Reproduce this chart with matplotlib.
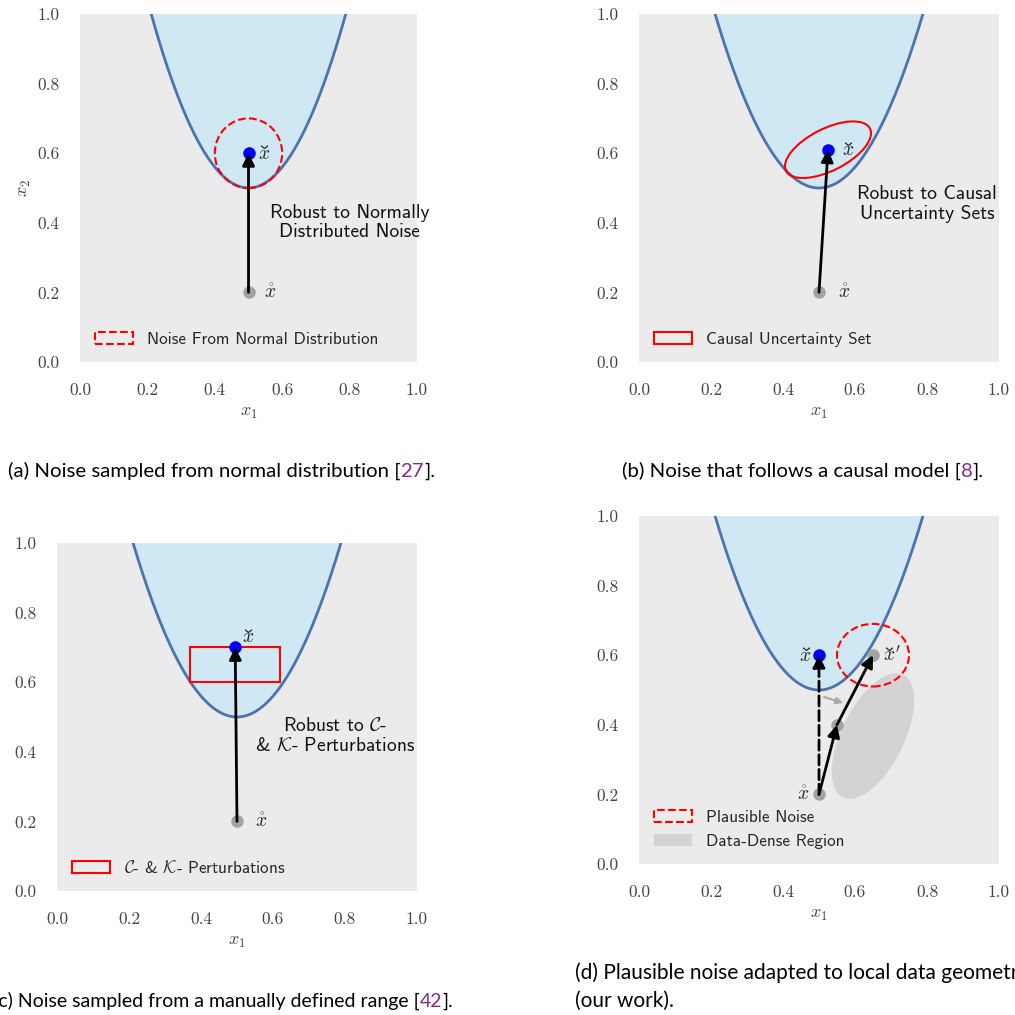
import matplotlib
matplotlib.use('Agg')
from matplotlib import pyplot as plt
from matplotlib import patches as mpatches
from matplotlib import transforms as mtransforms
from matplotlib.path import Path
import numpy as np

plt.rcParams['mathtext.fontset'] = 'cm'

# decision boundary x2 = curvature * (x1 - vx)**2 + vy
boundary_vertex = (0.5, 0.5)
boundary_curvature = 6.0

tick_values = [0.0, 0.2, 0.4, 0.6, 0.8, 1.0]
tick_labels = ['0.0', '0.2', '0.4', '0.6', '0.8', '1.0']

# (a) normal noise
a_origin = (0.5, 0.2)
a_target = (0.5, 0.6)
a_noise_radius = 0.1

# (b) causal uncertainty set
b_origin = (0.5, 0.2)
b_target = (0.525, 0.61)
b_set_size = (0.263, 0.12)
b_set_angle = 28

# (c) C- & K- perturbation box
c_origin = (0.5, 0.2)
c_target = (0.495, 0.7)
c_box_x = (0.37, 0.62)
c_box_y = (0.6, 0.7)

# (d) plausible noise
d_origin = (0.5, 0.2)
d_target = (0.5, 0.6)
d_step = (0.55, 0.4)
d_final = (0.65, 0.6)
d_noise_size = (0.2, 0.18)
d_dense_center = (0.65, 0.368)
d_dense_size = (0.39, 0.175)
d_dense_angle = 65
d_hint_from = (0.514, 0.48)
d_hint_to = (0.567, 0.463)

captions = [
    ('(a) Noise sampled from normal distribution [', '27', '].'),
    ('(b) Noise that follows a causal model [', '8', '].'),
    ('(c) Noise sampled from a manually defined range [', '42', '].'),
]
caption_d = ['(d) Plausible noise adapted to local data geometry', '(our work).']

bg_color = '#ebebeb'
fill_color = '#cfe8f4'
line_color = '#4c72b0'
point_gray = '#a3a3a3'
text_dark = '#262626'
cite_color = '#862a85'

# small caron drawn as a marker (mathtext has no \check)
caron = Path([(-1, 0.8), (0, 0), (1, 0.8)], [Path.MOVETO, Path.LINETO, Path.LINETO])

fig = plt.figure(figsize=(10.15, 10.15), dpi=100)
W = H = 1015.0


def px_axes(left, top, right, bottom):
    return fig.add_axes([left / W, 1 - bottom / H, (right - left) / W, (bottom - top) / H])


def base_panel(ax, ylabel=False):
    ax.set_facecolor(bg_color)
    for s in ax.spines.values():
        s.set_visible(False)
    vx, vy = boundary_vertex
    half = np.sqrt((1.0 - vy) / boundary_curvature)
    xs = np.linspace(vx - half, vx + half, 400)
    ys = boundary_curvature * (xs - vx) ** 2 + vy
    ax.fill_between(xs, ys, 1.0, color=fill_color, lw=0, zorder=1)
    ax.plot(xs, ys, color=line_color, lw=2, zorder=2)
    ax.set_xlim(0, 1)
    ax.set_ylim(0, 1)
    ax.set_xticks(tick_values)
    ax.set_yticks(tick_values)
    ax.set_xticklabels(tick_labels, fontfamily='cmr10', fontsize=12.5, color='#444444')
    ax.set_yticklabels(tick_labels, fontfamily='cmr10', fontsize=12.5, color='#444444')
    ax.tick_params(length=0, pad=15)
    ax.set_xlabel('$x_1$', fontsize=13, color='#444444')
    ax.xaxis.set_label_coords(0.5, -0.118)
    if ylabel:
        ax.set_ylabel('$x_2$', fontsize=13, color='#444444')
        ax.yaxis.set_label_coords(-0.138, 0.5)


def point(ax, xy, color):
    ax.plot(xy[0], xy[1], 'o', color=color, ms=8, zorder=3)


def arrow(ax, start, end, color='black', lw=2, ls='-', scale=18):
    ax.annotate('', xy=end, xytext=start,
                arrowprops=dict(arrowstyle='-|>', color=color, lw=lw, ls=ls,
                                mutation_scale=scale, shrinkA=0, shrinkB=0),
                zorder=5)


def label(ax, x, y, s, ha='left'):
    ax.text(x, y, s, fontsize=14, ha=ha, va='center', color=text_dark, zorder=6)


def check_label(ax, x, y, s='$x$', ha='left'):
    label(ax, x, y, s, ha=ha)
    dx = 4.4 if ha == 'left' else -3.6
    tr = mtransforms.offset_copy(ax.transData, fig=fig, x=dx, y=3.6, units='points')
    ax.plot(x, y, marker=caron, ms=5, mew=0.9, mec=text_dark, mfc='none',
            transform=tr, zorder=6, clip_on=False)


def note(ax, x, y, s):
    ax.text(x, y, s, fontsize=14, fontfamily='cmss10', ha='center', va='center',
            multialignment='center', linespacing=1.1, color='#111111', zorder=6)


def legend(ax, handles):
    ax.legend(handles=handles, loc='lower left', frameon=False, handlelength=2.2,
              prop={'family': 'cmss10', 'size': 12.3}, labelcolor=text_dark)


ax_a = px_axes(80, 14, 417, 362)
ax_b = px_axes(639, 14, 999, 362)
ax_c = px_axes(57, 543, 417, 891)
ax_d = px_axes(639, 516, 999, 864)

# (a)
base_panel(ax_a, ylabel=True)
ax_a.add_patch(mpatches.Circle(a_target, a_noise_radius, fill=False, ec='red', ls='--', lw=1.5, zorder=3))
point(ax_a, a_origin, point_gray)
point(ax_a, a_target, 'blue')
arrow(ax_a, a_origin, a_target)
check_label(ax_a, 0.528, 0.6)
label(ax_a, 0.545, 0.2, r'$\mathring{x}$')
note(ax_a, 0.80, 0.40, 'Robust to Normally\nDistributed Noise')
legend(ax_a, [mpatches.Patch(fc='none', ec='red', ls='--', lw=1.5, label='Noise From Normal Distribution')])

# (b)
base_panel(ax_b)
ax_b.add_patch(mpatches.Ellipse(b_target, b_set_size[0], b_set_size[1], angle=b_set_angle,
                                fill=False, ec='red', lw=1.5, zorder=3))
point(ax_b, b_origin, point_gray)
point(ax_b, b_target, 'blue')
arrow(ax_b, b_origin, b_target)
check_label(ax_b, 0.564, 0.61)
label(ax_b, 0.553, 0.2, r'$\mathring{x}$')
note(ax_b, 0.80, 0.454, 'Robust to Causal\nUncertainty Sets')
legend(ax_b, [mpatches.Patch(fc='none', ec='red', lw=1.5, label='Causal Uncertainty Set')])

# (c)
base_panel(ax_c)
ax_c.add_patch(mpatches.Rectangle((c_box_x[0], c_box_y[0]), c_box_x[1] - c_box_x[0],
                                  c_box_y[1] - c_box_y[0], fill=False, ec='red', lw=1.5, zorder=3))
point(ax_c, c_origin, point_gray)
point(ax_c, c_target, 'blue')
arrow(ax_c, c_origin, c_target)
check_label(ax_c, 0.514, 0.73)
label(ax_c, 0.55, 0.2, r'$\mathring{x}$')
note(ax_c, 0.771, 0.446, 'Robust to $\\mathcal{C}$-\n& $\\mathcal{K}$- Perturbations')
legend(ax_c, [mpatches.Patch(fc='none', ec='red', lw=1.5,
                             label=r'$\mathcal{C}$- & $\mathcal{K}$- Perturbations')])

# (d)
base_panel(ax_d)
ax_d.add_patch(mpatches.Ellipse(d_dense_center, d_dense_size[0], d_dense_size[1], angle=d_dense_angle,
                                fc='lightgray', ec='none', zorder=1.5))
ax_d.add_patch(mpatches.Ellipse(d_final, d_noise_size[0], d_noise_size[1], fill=False,
                                ec='red', ls='--', lw=1.5, zorder=3))
point(ax_d, d_origin, point_gray)
point(ax_d, d_step, point_gray)
point(ax_d, d_final, point_gray)
point(ax_d, d_target, 'blue')
arrow(ax_d, d_origin, d_target, ls='--')
arrow(ax_d, d_origin, d_step)
arrow(ax_d, d_step, d_final)
arrow(ax_d, d_hint_from, d_hint_to, color='#a9a9a9', lw=1.5, scale=10)
check_label(ax_d, 0.478, 0.6, ha='right')
check_label(ax_d, 0.678, 0.6, "$x'$")
label(ax_d, 0.472, 0.2, r'$\mathring{x}$', ha='right')
legend(ax_d, [mpatches.Patch(fc='none', ec='red', ls='--', lw=1.5, label='Plausible Noise'),
              mpatches.Patch(fc='lightgray', ec='none', label='Data-Dense Region')])

# captions (the page crop cuts (c) and (d) at the edges, as in the source)
cap_sizes = [14.7, 14.7, 14.0]
cap_pos = [(8, 477), (622, 477), (-7, 1007)]
for (before, cite, after), (cx, cy), size in zip(captions, cap_pos, cap_sizes):
    t1 = fig.text(cx / W, 1 - cy / H, before, fontfamily='Lato', fontsize=size,
                  color='black', va='baseline')
    t2 = ax_a.annotate(cite, xy=(1, 0), xycoords=t1, ha='left', va='bottom',
                       fontfamily='Lato', fontsize=size, color=cite_color, annotation_clip=False)
    ax_a.annotate(after, xy=(1, 0), xycoords=t2, ha='left', va='bottom',
                  fontfamily='Lato', fontsize=size, color='black', annotation_clip=False)
fig.text(575 / W, 1 - 979 / H, caption_d[0], fontfamily='Lato', fontsize=15,
         color='black', va='baseline')
fig.text(575 / W, 1 - 1007 / H, caption_d[1], fontfamily='Lato', fontsize=15,
         color='black', va='baseline')

plt.savefig('out.png', dpi=100)
